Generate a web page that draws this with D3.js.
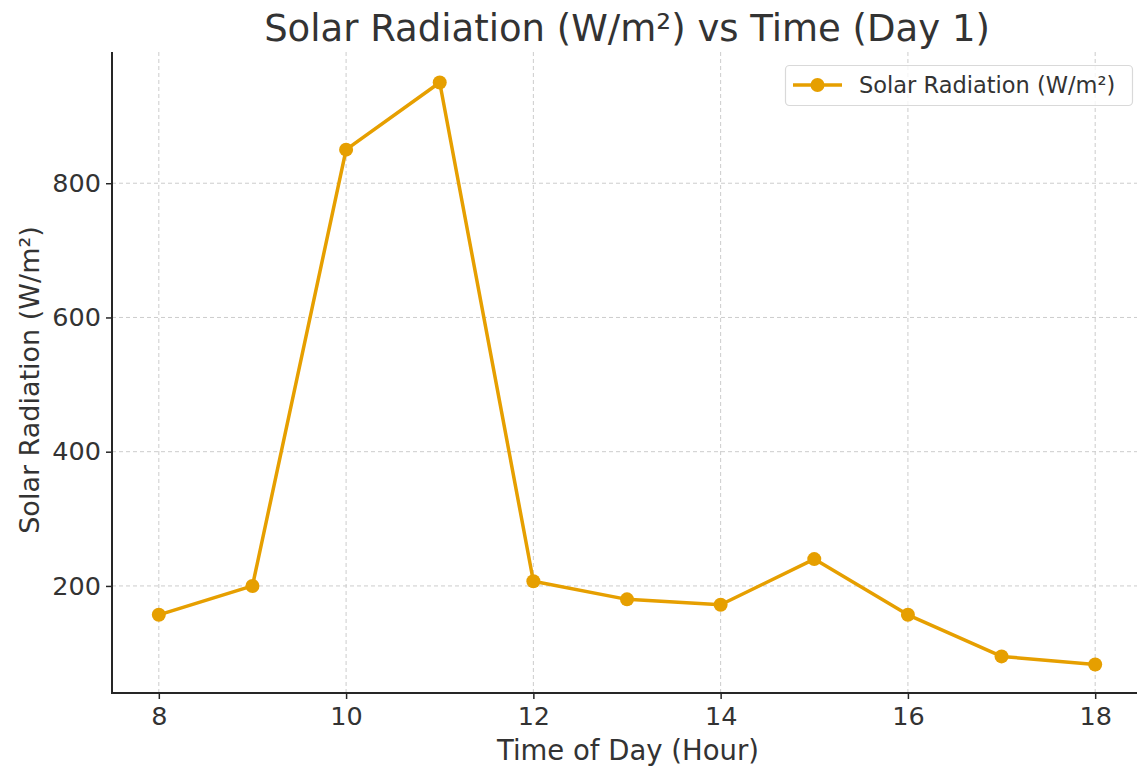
<!DOCTYPE html>
<html><head><meta charset="utf-8">
<script src="https://cdn.jsdelivr.net/npm/d3@7"></script>
<style>body{margin:0;background:#fff;} svg{display:block;font-family:"DejaVu Sans",sans-serif;}</style>
</head><body>
<svg id="c" width="1137" height="767"></svg>
<script>
const hours = [8,9,10,11,12,13,14,15,16,17,18];
const radiation = [157,200,850,950,207,180,172,240,157,95,83];
const xTicks = [8,10,12,14,16,18];
const yTicks = [200,400,600,800];
const title = "Solar Radiation (W/m²) vs Time (Day 1)";
const xLabel = "Time of Day (Hour)";
const yLabel = "Solar Radiation (W/m²)";
const seriesName = "Solar Radiation (W/m²)";

const svg = d3.select("#c");
const L = 112, R = 1142, T = 52, B = 693;
const x = d3.scaleLinear().domain([7.5,18.5]).range([L,R]);
const y = d3.scaleLinear().domain([40.5,995.5]).range([B,T]);
const col = "#E69F00", ink = "#262626", txt = "#333333";

// grid
svg.append("g").selectAll("line").data(xTicks).join("line")
  .attr("x1",d=>x(d)).attr("x2",d=>x(d)).attr("y1",T).attr("y2",B)
  .attr("stroke","#cccccc").attr("stroke-width",1).attr("stroke-dasharray","4,3");
svg.append("g").selectAll("line").data(yTicks).join("line")
  .attr("x1",L).attr("x2",R).attr("y1",d=>y(d)).attr("y2",d=>y(d))
  .attr("stroke","#cccccc").attr("stroke-width",1).attr("stroke-dasharray","4,3");

// axes
const xa = svg.append("g").attr("transform",`translate(0,${B})`)
  .call(d3.axisBottom(x).tickValues(xTicks).tickSize(6).tickPadding(8).tickFormat(d3.format("d")));
const ya = svg.append("g").attr("transform",`translate(${L},0)`)
  .call(d3.axisLeft(y).tickValues(yTicks).tickSize(6).tickPadding(5).tickFormat(d3.format("d")));
[xa,ya].forEach(a=>{
  a.select(".domain").remove();
  a.selectAll(".tick line").attr("stroke",ink).attr("stroke-width",1.5);
  a.selectAll(".tick text").attr("fill",txt).style("font-size","25.5px").style("font-family","DejaVu Sans");
});
svg.append("line").attr("x1",L).attr("x2",L).attr("y1",T).attr("y2",B+0.75).attr("stroke",ink).attr("stroke-width",2);
svg.append("line").attr("x1",L-1).attr("x2",1137).attr("y1",B).attr("y2",B).attr("stroke",ink).attr("stroke-width",2);

// line
const line = d3.line().x((d,i)=>x(hours[i])).y(d=>y(d));
svg.append("path").datum(radiation).attr("d",line).attr("fill","none")
  .attr("stroke",col).attr("stroke-width",3.5).attr("stroke-linejoin","round");
svg.append("g").selectAll("circle").data(radiation).join("circle")
  .attr("cx",(d,i)=>x(hours[i])).attr("cy",d=>y(d)).attr("r",7).attr("fill",col);

// title & labels
svg.append("text").attr("x",627).attr("y",41).attr("text-anchor","middle")
  .attr("fill",txt).style("font-size","37px").text(title);
svg.append("text").attr("x",628).attr("y",760).attr("text-anchor","middle")
  .attr("fill",txt).style("font-size","27.5px").text(xLabel);
svg.append("text").attr("transform","translate(39,380) rotate(-90)").attr("text-anchor","middle")
  .attr("fill",txt).style("font-size","27px").text(yLabel);

// legend
const lg = svg.append("g");
lg.append("rect").attr("x",785.5).attr("y",65.5).attr("width",347).attr("height",40).attr("rx",4)
  .attr("fill","#fff").attr("fill-opacity",0.8).attr("stroke","#d9d9d9").attr("stroke-width",1.2);
lg.append("line").attr("x1",793).attr("x2",842).attr("y1",85).attr("y2",85).attr("stroke",col).attr("stroke-width",3.5);
lg.append("circle").attr("cx",817.5).attr("cy",85).attr("r",7).attr("fill",col);
lg.append("text").attr("x",859).attr("y",93).attr("fill",txt).style("font-size","22.5px").text(seriesName);
</script>
</body></html>
